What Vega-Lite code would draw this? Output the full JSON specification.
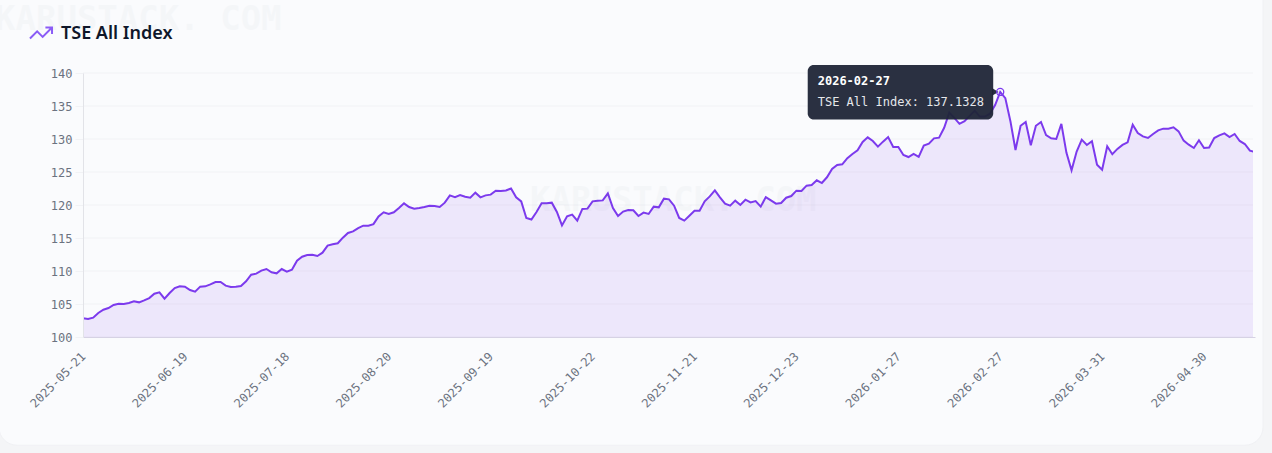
{
  "$schema": "https://vega.github.io/schema/vega-lite/v6.json",
  "width": 1170,
  "height": 264,
  "autosize": "none",
  "padding": {"left": 83, "top": 73, "right": 19, "bottom": 116},
  "background": "#f4f5f7",
  "config": {
    "view": {"stroke": null},
    "font": "DejaVu Sans Mono",
    "axisY": {"tickCount": 9, "labelOverlap": false, "grid": false}
  },
  "datasets": {
    "tip": [
      {"date": "2026-02-27", "value": 137.1328, "head": "2026-02-27", "body": "TSE All Index: 137.1328"}
    ],
    "one": [{"name": "panel"}],
    "ticks": [{"tick":100},{"tick":105},{"tick":110},{"tick":115},{"tick":120},{"tick":125},{"tick":130},{"tick":135},{"tick":140}],
    "prices": [
      {"date":"2025-05-21","value":102.83},{"date":"2025-05-22","value":102.73},{"date":"2025-05-23","value":102.93},{"date":"2025-05-27","value":103.64},{"date":"2025-05-28","value":104.14},{"date":"2025-05-29","value":104.39},{"date":"2025-05-30","value":104.85},
      {"date":"2025-06-02","value":105.05},{"date":"2025-06-03","value":105.0},{"date":"2025-06-04","value":105.15},{"date":"2025-06-05","value":105.4},{"date":"2025-06-06","value":105.25},{"date":"2025-06-09","value":105.55},{"date":"2025-06-10","value":105.9},{"date":"2025-06-11","value":106.55},{"date":"2025-06-12","value":106.77},{"date":"2025-06-13","value":105.8},{"date":"2025-06-16","value":106.67},{"date":"2025-06-17","value":107.42},{"date":"2025-06-18","value":107.68},{"date":"2025-06-19","value":107.63},
      {"date":"2025-06-20","value":107.12},{"date":"2025-06-23","value":106.87},{"date":"2025-06-24","value":107.63},{"date":"2025-06-25","value":107.68},{"date":"2025-06-26","value":107.98},{"date":"2025-06-27","value":108.33},{"date":"2025-06-30","value":108.33},{"date":"2025-07-01","value":107.78},{"date":"2025-07-02","value":107.58},{"date":"2025-07-03","value":107.63},
      {"date":"2025-07-07","value":107.73},{"date":"2025-07-08","value":108.43},{"date":"2025-07-09","value":109.44},{"date":"2025-07-10","value":109.6},{"date":"2025-07-11","value":110.05},{"date":"2025-07-14","value":110.3},{"date":"2025-07-15","value":109.8},{"date":"2025-07-16","value":109.65},{"date":"2025-07-17","value":110.3},{"date":"2025-07-18","value":109.9},
      {"date":"2025-07-22","value":110.2},{"date":"2025-07-23","value":111.57},{"date":"2025-07-24","value":112.17},{"date":"2025-07-25","value":112.42},{"date":"2025-07-28","value":112.47},{"date":"2025-07-29","value":112.27},{"date":"2025-07-30","value":112.78},{"date":"2025-07-31","value":113.84},{"date":"2025-08-01","value":114.04},{"date":"2025-08-04","value":114.2},{"date":"2025-08-05","value":115.05},{"date":"2025-08-06","value":115.76},{"date":"2025-08-07","value":116.0},{"date":"2025-08-08","value":116.5},{"date":"2025-08-12","value":116.87},{"date":"2025-08-13","value":116.87},{"date":"2025-08-14","value":117.1},{"date":"2025-08-18","value":118.28},{"date":"2025-08-19","value":118.9},{"date":"2025-08-20","value":118.64},
      {"date":"2025-08-21","value":118.9},{"date":"2025-08-22","value":119.55},{"date":"2025-08-25","value":120.25},{"date":"2025-08-26","value":119.7},{"date":"2025-08-27","value":119.45},{"date":"2025-08-28","value":119.55},{"date":"2025-08-29","value":119.7},{"date":"2025-09-02","value":119.9},{"date":"2025-09-03","value":119.85},{"date":"2025-09-04","value":119.7},{"date":"2025-09-05","value":120.35},{"date":"2025-09-08","value":121.46},{"date":"2025-09-09","value":121.2},{"date":"2025-09-10","value":121.5},{"date":"2025-09-11","value":121.25},{"date":"2025-09-12","value":121.1},{"date":"2025-09-16","value":121.87},{"date":"2025-09-17","value":121.16},{"date":"2025-09-18","value":121.46},{"date":"2025-09-19","value":121.57},
      {"date":"2025-09-22","value":122.17},{"date":"2025-09-24","value":122.12},{"date":"2025-09-25","value":122.2},{"date":"2025-09-26","value":122.5},{"date":"2025-09-29","value":121.16},{"date":"2025-09-30","value":120.55},{"date":"2025-10-01","value":118.03},{"date":"2025-10-02","value":117.8},{"date":"2025-10-03","value":118.94},{"date":"2025-10-07","value":120.25},{"date":"2025-10-08","value":120.25},{"date":"2025-10-09","value":120.35},{"date":"2025-10-10","value":118.94},{"date":"2025-10-14","value":116.9},{"date":"2025-10-15","value":118.28},{"date":"2025-10-16","value":118.54},{"date":"2025-10-17","value":117.63},{"date":"2025-10-20","value":119.4},{"date":"2025-10-21","value":119.45},{"date":"2025-10-22","value":120.55},
      {"date":"2025-10-23","value":120.65},{"date":"2025-10-24","value":120.7},{"date":"2025-10-27","value":121.77},{"date":"2025-10-28","value":119.55},{"date":"2025-10-29","value":118.33},{"date":"2025-10-30","value":119.0},{"date":"2025-10-31","value":119.24},{"date":"2025-11-04","value":119.2},{"date":"2025-11-05","value":118.33},{"date":"2025-11-06","value":118.84},{"date":"2025-11-07","value":118.64},{"date":"2025-11-10","value":119.75},{"date":"2025-11-12","value":119.65},{"date":"2025-11-13","value":120.96},{"date":"2025-11-14","value":120.86},{"date":"2025-11-17","value":119.9},{"date":"2025-11-18","value":118.03},{"date":"2025-11-19","value":117.63},{"date":"2025-11-20","value":118.38},{"date":"2025-11-21","value":119.14},
      {"date":"2025-11-25","value":119.14},{"date":"2025-11-26","value":120.56},{"date":"2025-11-28","value":121.3},{"date":"2025-12-01","value":122.22},{"date":"2025-12-02","value":121.16},{"date":"2025-12-03","value":120.2},{"date":"2025-12-04","value":119.9},{"date":"2025-12-05","value":120.66},{"date":"2025-12-08","value":120.0},{"date":"2025-12-09","value":120.8},{"date":"2025-12-10","value":120.4},{"date":"2025-12-11","value":120.6},{"date":"2025-12-12","value":119.75},{"date":"2025-12-15","value":121.2},{"date":"2025-12-16","value":120.7},{"date":"2025-12-17","value":120.2},{"date":"2025-12-18","value":120.3},{"date":"2025-12-19","value":121.1},{"date":"2025-12-22","value":121.36},{"date":"2025-12-23","value":122.17},
      {"date":"2025-12-24","value":122.12},{"date":"2025-12-26","value":122.93},{"date":"2025-12-29","value":123.03},{"date":"2025-12-30","value":123.74},{"date":"2025-12-31","value":123.33},{"date":"2026-01-05","value":124.2},{"date":"2026-01-06","value":125.45},{"date":"2026-01-07","value":126.06},{"date":"2026-01-08","value":126.16},{"date":"2026-01-09","value":127.1},{"date":"2026-01-13","value":127.73},{"date":"2026-01-14","value":128.28},{"date":"2026-01-15","value":129.55},{"date":"2026-01-16","value":130.25},{"date":"2026-01-20","value":129.7},{"date":"2026-01-21","value":128.84},{"date":"2026-01-22","value":129.6},{"date":"2026-01-23","value":130.3},{"date":"2026-01-26","value":128.8},{"date":"2026-01-27","value":128.8},
      {"date":"2026-01-28","value":127.57},{"date":"2026-01-29","value":127.27},{"date":"2026-01-30","value":127.73},{"date":"2026-02-02","value":127.3},{"date":"2026-02-03","value":129.0},{"date":"2026-02-04","value":129.3},{"date":"2026-02-05","value":130.1},{"date":"2026-02-06","value":130.2},{"date":"2026-02-09","value":131.7},{"date":"2026-02-10","value":134.0},{"date":"2026-02-12","value":133.2},{"date":"2026-02-13","value":132.3},{"date":"2026-02-17","value":132.7},{"date":"2026-02-18","value":133.5},{"date":"2026-02-19","value":134.3},{"date":"2026-02-20","value":133.4},{"date":"2026-02-24","value":133.4},{"date":"2026-02-25","value":133.84},{"date":"2026-02-26","value":135.15},
      {"date":"2026-02-27","value":137.1328},{"date":"2026-03-02","value":136.2},{"date":"2026-03-03","value":132.7},{"date":"2026-03-04","value":128.33},{"date":"2026-03-05","value":132.0},{"date":"2026-03-06","value":132.58},{"date":"2026-03-09","value":129.04},{"date":"2026-03-10","value":132.0},{"date":"2026-03-11","value":132.58},{"date":"2026-03-12","value":130.6},{"date":"2026-03-13","value":130.1},{"date":"2026-03-16","value":130.0},{"date":"2026-03-17","value":132.3},{"date":"2026-03-18","value":127.9},{"date":"2026-03-19","value":125.25},{"date":"2026-03-23","value":128.1},{"date":"2026-03-24","value":129.9},{"date":"2026-03-25","value":129.1},{"date":"2026-03-26","value":129.65},{"date":"2026-03-30","value":126.1},{"date":"2026-03-31","value":125.35},
      {"date":"2026-04-01","value":128.9},{"date":"2026-04-02","value":127.7},{"date":"2026-04-06","value":128.5},{"date":"2026-04-07","value":129.1},{"date":"2026-04-08","value":129.5},{"date":"2026-04-09","value":132.17},{"date":"2026-04-10","value":130.9},{"date":"2026-04-13","value":130.4},{"date":"2026-04-14","value":130.15},{"date":"2026-04-15","value":130.75},{"date":"2026-04-16","value":131.3},{"date":"2026-04-17","value":131.57},{"date":"2026-04-20","value":131.57},{"date":"2026-04-21","value":131.77},{"date":"2026-04-22","value":131.16},{"date":"2026-04-23","value":129.75},{"date":"2026-04-24","value":129.14},{"date":"2026-04-27","value":128.64},{"date":"2026-04-28","value":129.8},{"date":"2026-04-30","value":128.64},
      {"date":"2026-05-01","value":128.7},{"date":"2026-05-07","value":130.15},{"date":"2026-05-08","value":130.55},{"date":"2026-05-11","value":130.86},{"date":"2026-05-12","value":130.3},{"date":"2026-05-13","value":130.76},{"date":"2026-05-14","value":129.7},{"date":"2026-05-15","value":129.24},{"date":"2026-05-18","value":128.23},{"date":"2026-05-19","value":128.03}
    ]
  },
  "layer": [
    {
      "data": {"name": "one"},
      "mark": {"type": "rect", "fill": "#fafbfd", "stroke": "#f0f1f4", "cornerRadius": 18, "xOffset": -84, "x2Offset": 8},
      "encoding": {
        "x": {"datum": "2025-05-21", "type": "nominal"},
        "x2": {"datum": "2026-05-19"},
        "y": {
          "datum": 155,
          "type": "quantitative",
          "scale": {"domain": [100, 140], "nice": false},
          "axis": {
            "title": null,
            "tickCount": 9,
            "labelFont": "DejaVu Sans Mono",
            "labelFontSize": 12,
            "labelColor": "#6b7280",
            "labelPadding": 3,
            "labelOverlap": false,
            "tickSize": 8,
            "tickColor": "#f1f2f5",
            "grid": false,
            "domainColor": "#e2e3e8",
            "zindex": 1
          }
        },
        "y2": {"datum": 83.6}
      }
    },
    {
      "data": {"name": "ticks"},
      "mark": {"type": "rule", "color": "#f1f2f5", "strokeWidth": 1},
      "encoding": {
        "y": {"field": "tick", "type": "quantitative", "scale": {"domain": [100, 140], "nice": false}}
      }
    },
    {
      "data": {"name": "prices"},
      "mark": {"type": "area", "color": "#7c3aed", "opacity": 0.1, "clip": true},
      "encoding": {
        "x": {
          "field": "date",
          "type": "nominal",
          "scale": {"type": "point", "padding": 0, "range": [0, 1172]},
          "axis": {
            "title": null,
            "values": ["2025-05-21", "2025-06-19", "2025-07-18", "2025-08-20", "2025-09-19", "2025-10-22", "2025-11-21", "2025-12-23", "2026-01-27", "2026-02-27", "2026-03-31", "2026-04-30"],
            "labelAngle": -45,
            "labelAlign": "right",
            "labelBaseline": "middle",
            "labelFont": "DejaVu Sans Mono",
            "labelFontSize": 12,
            "labelColor": "#6b7280",
            "labelPadding": 17,
            "labelOverlap": false,
            "ticks": false,
            "grid": false,
            "domainColor": "#d6d2e4",
            "zindex": 1
          }
        },
        "y": {"field": "value", "type": "quantitative", "scale": {"domain": [100, 140], "nice": false}}
      }
    },
    {
      "data": {"name": "prices"},
      "mark": {"type": "line", "color": "#7c3aed", "strokeWidth": 2, "clip": true},
      "encoding": {
        "x": {"field": "date", "type": "nominal"},
        "y": {"field": "value", "type": "quantitative", "scale": {"domain": [100, 140], "nice": false}}
      }
    },
    {
      "data": {"name": "one"},
      "mark": {"type": "text", "text": "KARUSTACK. COM", "font": "DejaVu Sans Mono", "fontSize": 34, "fontWeight": "bold", "align": "left", "baseline": "middle", "fill": "#64748b", "opacity": 0.03, "xOffset": -88},
      "encoding": {
        "x": {"datum": "2025-05-21", "type": "nominal"},
        "y": {"datum": 148, "type": "quantitative", "scale": {"domain": [100, 140], "nice": false}}
      }
    },
    {
      "data": {"name": "one"},
      "mark": {"type": "text", "text": "KARUSTACK. COM", "font": "DejaVu Sans Mono", "fontSize": 34, "fontWeight": "bold", "align": "left", "baseline": "middle", "fill": "#64748b", "opacity": 0.03, "xOffset": 447},
      "encoding": {
        "x": {"datum": "2025-05-21", "type": "nominal"},
        "y": {"datum": 120.6, "type": "quantitative", "scale": {"domain": [100, 140], "nice": false}}
      }
    },
    {
      "data": {"name": "one"},
      "mark": {"type": "point", "shape": "M0.833,-0.417 L0.125,0.292 L-0.292,-0.125 L-0.833,0.417 M0.333,-0.417 L0.833,-0.417 L0.833,0.083", "size": 700, "filled": false, "stroke": "#8b5cf6", "strokeWidth": 2, "opacity": 1, "xOffset": -42},
      "encoding": {
        "x": {"datum": "2025-05-21", "type": "nominal"},
        "y": {"datum": 146.06, "type": "quantitative", "scale": {"domain": [100, 140], "nice": false}}
      }
    },
    {
      "data": {"name": "one"},
      "mark": {"type": "text", "text": "TSE All Index", "font": "Noto Sans", "fontSize": 18, "fontWeight": 600, "fill": "#0f172a", "align": "left", "baseline": "alphabetic", "xOffset": -22},
      "encoding": {
        "x": {"datum": "2025-05-21", "type": "nominal"},
        "y": {"datum": 145.15, "type": "quantitative", "scale": {"domain": [100, 140], "nice": false}}
      }
    },
    {
      "data": {"name": "tip"},
      "mark": {"type": "point", "shape": "triangle-right", "filled": true, "fill": "#1f2537", "opacity": 0.95, "size": 60, "xOffset": -5},
      "encoding": {
        "x": {"field": "date", "type": "nominal"},
        "y": {"field": "value", "type": "quantitative", "scale": {"domain": [100, 140], "nice": false}}
      }
    },
    {
      "data": {"name": "tip"},
      "mark": {"type": "rect", "fill": "#1f2537", "opacity": 0.95, "cornerRadius": 6, "xOffset": -192.5, "x2Offset": -7, "yOffset": -27, "y2Offset": 27.6},
      "encoding": {
        "x": {"field": "date", "type": "nominal"},
        "x2": {"field": "date"},
        "y": {"field": "value", "type": "quantitative", "scale": {"domain": [100, 140], "nice": false}},
        "y2": {"field": "value"}
      }
    },
    {
      "data": {"name": "tip"},
      "mark": {"type": "point", "shape": "circle", "size": 50, "filled": false, "stroke": "#7c3aed", "strokeWidth": 1.3, "opacity": 1},
      "encoding": {
        "x": {"field": "date", "type": "nominal"},
        "y": {"field": "value", "type": "quantitative", "scale": {"domain": [100, 140], "nice": false}}
      }
    },
    {
      "data": {"name": "tip"},
      "mark": {"type": "text", "font": "DejaVu Sans Mono", "fontSize": 12, "fontWeight": "bold", "fill": "#ffffff", "align": "left", "baseline": "middle", "xOffset": -182.5, "yOffset": -11},
      "encoding": {
        "x": {"field": "date", "type": "nominal"},
        "y": {"field": "value", "type": "quantitative", "scale": {"domain": [100, 140], "nice": false}},
        "text": {"field": "head"}
      }
    },
    {
      "data": {"name": "tip"},
      "mark": {"type": "text", "font": "DejaVu Sans Mono", "fontSize": 12, "fill": "#e5e7eb", "align": "left", "baseline": "middle", "xOffset": -182.5, "yOffset": 10},
      "encoding": {
        "x": {"field": "date", "type": "nominal"},
        "y": {"field": "value", "type": "quantitative", "scale": {"domain": [100, 140], "nice": false}},
        "text": {"field": "body"}
      }
    }
  ]
}
